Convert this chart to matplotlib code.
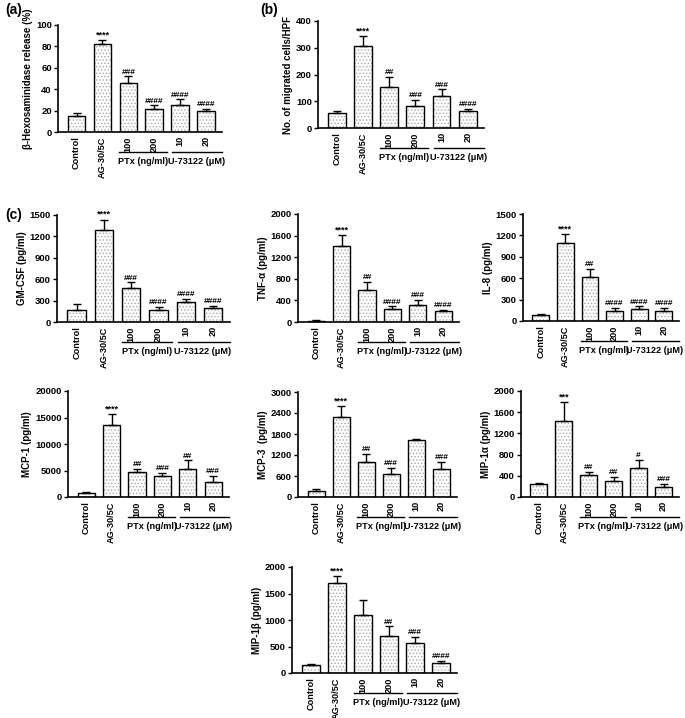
import matplotlib
matplotlib.use('Agg')
import matplotlib.pyplot as plt
from matplotlib.transforms import ScaledTranslation
import numpy as np

plt.rcParams['font.family'] = ['Liberation Sans', 'DejaVu Sans']
plt.rcParams['font.weight'] = 'bold'
plt.rcParams['axes.labelweight'] = 'bold'
plt.rcParams['hatch.linewidth'] = 0.6

# ---------------- data ----------------
categories = ['Control', 'AG-30/5C', '100', '200', '10', '20']
group_labels = ['PTx (ng/ml)', 'U-73122 (μM)']

hexo_mean = [15, 82, 46, 21.5, 25.5, 19.5]
hexo_err = [2.5, 4, 6, 3.5, 5, 2]
hexo_sig = ['', '****', '###', '####', '####', '####']

migr_mean = [55, 305, 152, 82, 120, 62]
migr_err = [10, 38, 38, 23, 25, 10]
migr_sig = ['', '****', '##', '###', '###', '####']

gmcsf_mean = [175, 1285, 470, 170, 285, 200]
gmcsf_err = [75, 150, 85, 45, 40, 25]
gmcsf_sig = ['', '****', '###', '####', '####', '####']

tnf_mean = [25, 1400, 600, 240, 320, 195]
tnf_err = [10, 210, 140, 50, 90, 30]
tnf_sig = ['', '****', '##', '####', '###', '####']

il8_mean = [85, 1090, 610, 135, 170, 145]
il8_err = [15, 130, 120, 45, 35, 40]
il8_sig = ['', '****', '##', '####', '####', '####']

mcp1_mean = [750, 13500, 4700, 4000, 5200, 2900]
mcp1_err = [100, 2200, 600, 600, 1700, 1100]
mcp1_sig = ['', '****', '##', '###', '##', '###']

mcp3_mean = [180, 2300, 1000, 660, 1630, 790]
mcp3_err = [60, 300, 230, 170, 30, 220]
mcp3_sig = ['', '****', '##', '###', '', '###']

mip1a_mean = [250, 1430, 420, 310, 550, 190]
mip1a_err = [20, 360, 60, 75, 150, 60]
mip1a_sig = ['', '***', '##', '##', '#', '###']

mip1b_mean = [150, 1700, 1100, 700, 575, 185]
mip1b_err = [25, 130, 270, 180, 110, 50]
mip1b_sig = ['', '****', '', '##', '###', '####']

# (ylabel, ymax, step, mean, err, sig, pixel box: left, right, top, bottom)
panels = [
    ('β-Hexosaminidase release (%)', 100, 20, hexo_mean, hexo_err, hexo_sig, (58, 222, 25, 132)),
    ('No. of migrated cells/HPF', 400, 100, migr_mean, migr_err, migr_sig, (318, 484, 21, 128)),
    ('GM-CSF (pg/ml)', 1500, 300, gmcsf_mean, gmcsf_err, gmcsf_sig, (57, 230, 215, 322)),
    ('TNF-α (pg/ml)', 2000, 400, tnf_mean, tnf_err, tnf_sig, (298, 459, 214, 322)),
    ('IL-8 (pg/ml)', 1500, 300, il8_mean, il8_err, il8_sig, (523, 679, 214, 321)),
    ('MCP-1 (pg/ml)', 20000, 5000, mcp1_mean, mcp1_err, mcp1_sig, (68, 229, 391, 497)),
    ('MCP-3  (pg/ml)', 3000, 600, mcp3_mean, mcp3_err, mcp3_sig, (298, 457, 392, 497)),
    ('MIP-1α (pg/ml)', 2000, 400, mip1a_mean, mip1a_err, mip1a_sig, (521, 679, 391, 497)),
    ('MIP-1β (pg/ml)', 2000, 500, mip1b_mean, mip1b_err, mip1b_sig, (292, 457, 567, 673)),
]

W, H = 685, 718
fig = plt.figure(figsize=(W / 100, H / 100), dpi=100)

x = np.arange(len(categories))
bw = 0.68
narrow = ['Liberation Sans Narrow', 'Liberation Sans', 'DejaVu Sans']

for ylabel, ymax, step, mean, err, sig, (l, r, t, b) in panels:
    ax = fig.add_axes([l / W, 1 - b / H, (r - l) / W, (b - t) / H])
    ax.bar(x, mean, width=bw, color='white', edgecolor='#a8a8a8', hatch='.....', linewidth=0)
    ax.bar(x, mean, width=bw, fill=False, edgecolor='black', linewidth=1.0)
    lower = np.zeros(len(mean))
    ax.errorbar(x, mean, yerr=[lower, err], fmt='none', ecolor='black',
                elinewidth=1.0, capsize=3, capthick=1.0)
    for xi, m, e, s in zip(x, mean, err, sig):
        if s:
            fs = 6.5 if s.startswith('*') else 6
            ax.annotate(s, (xi, m + e), xytext=(0, 0.5), textcoords='offset points',
                        ha='center', va='bottom', fontsize=fs, fontweight='bold')
    ax.set_ylim(0, ymax)
    ax.set_xlim(-0.72, 5.62)
    ax.set_yticks(np.arange(0, ymax + step / 2, step))
    ax.set_xticks(x)
    ax.set_xticklabels(categories, rotation=90, fontsize=6.6, fontweight='bold')
    ax.tick_params(axis='y', length=3, width=1, pad=1.5)
    ax.tick_params(axis='x', length=0, pad=3)
    for lab in ax.get_yticklabels():
        lab.set_fontweight('bold')
        lab.set_fontsize(6.8)
        lab.set_family(narrow)
    ax.spines['top'].set_visible(False)
    ax.spines['right'].set_visible(False)
    ax.spines['left'].set_linewidth(1.2)
    ax.spines['bottom'].set_linewidth(1.2)
    ax.set_ylabel(ylabel, fontsize=7, fontweight='bold', labelpad=2)

    # group brackets below axis
    tr_line = ax.get_xaxis_transform() + ScaledTranslation(0, -20 / 100, fig.dpi_scale_trans)
    ax.plot([1.65, 3.5], [0, 0], color='black', lw=1.0, transform=tr_line, clip_on=False)
    ax.plot([3.7, 5.62], [0, 0], color='black', lw=1.0, transform=tr_line, clip_on=False)
    tr_text = ax.get_xaxis_transform() + ScaledTranslation(0, -25 / 100, fig.dpi_scale_trans)
    ax.text(2.58, 0, group_labels[0], transform=tr_text, ha='center', va='top', fontsize=6.6,
            fontweight='bold', clip_on=False)
    ax.text(4.63, 0, group_labels[1], transform=tr_text, ha='center', va='top', fontsize=6.6,
            fontweight='bold', clip_on=False)

fig.text(5 / W, 1 - 10 / H, '(a)', fontsize=10, fontweight='bold', va='center', ha='left')
fig.text(260 / W, 1 - 10 / H, '(b)', fontsize=10, fontweight='bold', va='center', ha='left')
fig.text(5 / W, 1 - 215 / H, '(c)', fontsize=10, fontweight='bold', va='center', ha='left')

fig.savefig('out.png', dpi=100)
